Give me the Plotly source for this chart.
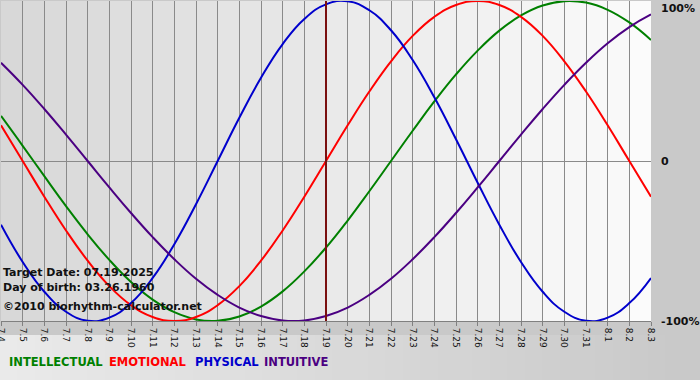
import plotly.graph_objects as go

# ---- data ----
dates = ["7.4", "7.5", "7.6", "7.7", "7.8", "7.9", "7.10", "7.11", "7.12", "7.13", "7.14",
         "7.15", "7.16", "7.17", "7.18", "7.19", "7.20", "7.21", "7.22", "7.23", "7.24",
         "7.25", "7.26", "7.27", "7.28", "7.29", "7.30", "7.31", "8.1", "8.2", "8.3"]

physical = [-0.398, -0.631, -0.817, -0.942, -0.998, -0.979, -0.888, -0.731, -0.520, -0.270, 0.000,
            0.270, 0.520, 0.731, 0.888, 0.979, 0.998, 0.942, 0.817, 0.631, 0.398,
            0.136, -0.136, -0.398, -0.631, -0.817, -0.942, -0.998, -0.979, -0.888, -0.731]

emotional = [0.223, 0.000, -0.223, -0.434, -0.623, -0.782, -0.901, -0.975, -1.000, -0.975, -0.901,
             -0.782, -0.623, -0.434, -0.223, 0.000, 0.223, 0.434, 0.623, 0.782, 0.901,
             0.975, 1.000, 0.975, 0.901, 0.782, 0.623, 0.434, 0.223, 0.000, -0.223]

intellectual = [0.282, 0.095, -0.095, -0.282, -0.458, -0.618, -0.756, -0.866, -0.945, -0.990, -0.999,
                -0.972, -0.910, -0.815, -0.690, -0.541, -0.372, -0.189, 0.000, 0.189, 0.372,
                0.541, 0.690, 0.815, 0.910, 0.972, 0.999, 0.990, 0.945, 0.866, 0.756]

intuitive = [0.614, 0.476, 0.325, 0.165, 0.000, -0.165, -0.325, -0.476, -0.614, -0.736, -0.837,
             -0.916, -0.969, -0.997, -0.997, -0.969, -0.916, -0.837, -0.736, -0.614, -0.476,
             -0.325, -0.165, 0.000, 0.165, 0.325, 0.476, 0.614, 0.736, 0.837, 0.916]

target_label = "7.19"
right_labels = ["100%", "0", "-100%"]
right_values = [1, 0, -1]
info_lines = ["Target Date: 07.19.2025", "Day of birth: 03.26.1960", "\u00a92010 biorhythm-calculator.net"]

series = [
    ("INTELLECTUAL", intellectual, "#008000"),
    ("EMOTIONAL", emotional, "#ff0000"),
    ("PHYSICAL", physical, "#0000cc"),
    ("INTUITIVE", intuitive, "#4b0082"),
]
legend_x_px = [7, 107, 193, 262]

xs = list(range(len(dates)))
FONT = "Verdana, DejaVu Sans, sans-serif"
PW = 650.0  # plot width in px
PH = 320.0  # plot height in px

fig = go.Figure()
for name, vals, col in series:
    fig.add_trace(go.Scatter(x=xs, y=vals, mode="lines", name=name,
                             line=dict(color=col, width=2, shape="spline", smoothing=1.3),
                             showlegend=False, hoverinfo="skip"))

shapes = []
# plot-area background gradient (light grey on left to near white on right)
n = len(dates) - 1
for i in range(n):
    f = i / (n - 1)
    v = int(216 + (251 - 216) * f)
    shapes.append(dict(type="rect", xref="x", yref="y", x0=i, x1=i + 1, y0=-1, y1=1,
                       fillcolor=f"rgb({v},{v},{v})", line=dict(width=0), layer="below"))
# bottom strip gradient in the paper
steps = 40
for i in range(steps):
    f = i / (steps - 1)
    v = int(234 + (201 - 234) * f)
    shapes.append(dict(type="rect", xref="paper", yref="paper",
                       x0=(-1 + i * 700 / steps) / PW, x1=(-1 + (i + 1) * 700 / steps + 1) / PW,
                       y0=-59 / PH, y1=-14 / PH,
                       fillcolor=f"rgb({v},{v},{v})", line=dict(width=0), layer="below"))
# target date line
ti = dates.index(target_label)
shapes.append(dict(type="line", xref="x", yref="y", x0=ti, x1=ti, y0=-1, y1=1,
                   line=dict(color="#7a1010", width=2), layer="above"))

annotations = []
for lab, v in zip(right_labels, right_values):
    annotations.append(dict(text=f"<b>{lab}</b>", xref="paper", yref="y", x=(659 - 1) / PW, y=v,
                            xanchor="left", yanchor="top" if v == 1 else "middle",
                            yshift=1 if v == 1 else 0, showarrow=False,
                            font=dict(family=FONT, size=11, color="#111111")))
for k, line in enumerate(info_lines):
    annotations.append(dict(text=f"<b>{line}</b>", xref="paper", yref="paper",
                            x=0.0, y=[49, 34, 15][k] / PH, xanchor="left", yanchor="middle",
                            showarrow=False, font=dict(family=FONT, size=11, color="#111111")))
for (name, _, col), px in zip(series, legend_x_px):
    annotations.append(dict(text=f"<b>{name}</b>", xref="paper", yref="paper", x=(px - 1) / PW,
                            y=-41 / PH, xanchor="left", yanchor="middle", showarrow=False,
                            font=dict(family=FONT, size=11.5, color=col)))

fig.update_layout(
    width=700, height=380,
    margin=dict(l=1, r=49, t=1, b=59, autoexpand=False),
    paper_bgcolor="#c9c9c9",
    plot_bgcolor="#e8e8e8",
    shapes=shapes,
    annotations=annotations,
    xaxis=dict(range=[0, n], tickmode="array", tickvals=xs, ticktext=dates,
               tickangle=90, ticks="outside", ticklen=4, tickcolor="#808080",
               ticklabeloverflow="allow", automargin=False,
               showgrid=True, gridcolor="#8a8a8a", gridwidth=1,
               showline=True, linecolor="#808080", linewidth=1,
               zeroline=False, fixedrange=True,
               tickfont=dict(family="Tahoma, DejaVu Sans, sans-serif", size=9, color="#111111")),
    yaxis=dict(range=[-1, 1], tickmode="array", tickvals=[0], showticklabels=False,
               automargin=False,
               showgrid=True, gridcolor="#8a8a8a", gridwidth=1, zeroline=False,
               showline=False, fixedrange=True),
)

fig.write_html("out.html")
